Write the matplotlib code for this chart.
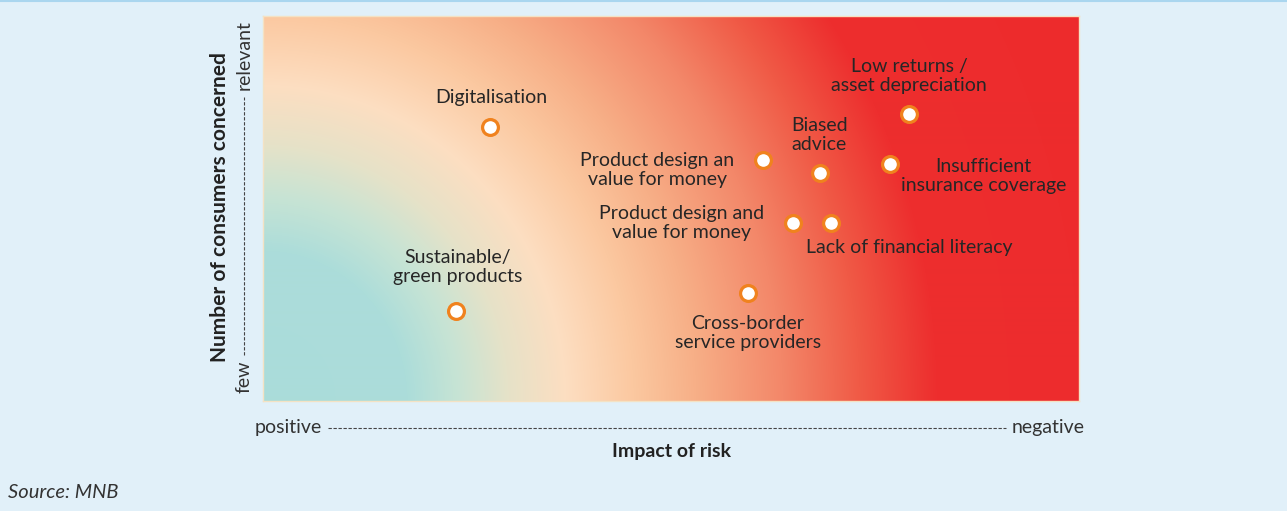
import numpy as np
import matplotlib.pyplot as plt

plt.rcParams['font.family'] = ['Lato', 'DejaVu Sans']

# risk map data (impact of risk: 0 = positive, 100 = negative; consumers: 0 = few, 100 = relevant)
names = ['Digitalisation', 'Sustainable/\ngreen products', 'Product design an\nvalue for money',
         'Biased\nadvice', 'Product design and\nvalue for money', 'Lack of financial literacy',
         'Cross-border\nservice providers', 'Low returns /\nasset depreciation',
         'Insufficient\ninsurance coverage']
impact = [27.8, 23.7, 61.3, 68.3, 64.9, 69.6, 59.4, 79.2, 76.8]
consumers = [71.2, 23.4, 62.6, 59.2, 46.2, 46.2, 28.1, 74.5, 61.6]
# label offsets from the point, in pixels
offsets = [(1, 29), (1, 44), (-106, -10), (-1, 38), (-111, 0), (78, -24), (0, -40), (0, 38), (94, -12)]

# radial background gradient from the bottom-left corner
W, H = 816, 385
xp, yp = np.meshgrid(np.arange(W), np.arange(H))
r = np.sqrt((xp * 1.04) ** 2 + yp ** 2)
stops = [0, 150, 205, 255, 315, 385, 450, 540, 620, 700, 1000]
cols = np.array([(170, 220, 218), (172, 221, 218), (200, 228, 212), (230, 226, 200),
                 (253, 222, 193), (251, 200, 160), (247, 175, 135), (243, 135, 105),
                 (240, 90, 70), (237, 46, 46), (237, 42, 44)]) / 255
rgb = np.stack([np.interp(r, stops, cols[:, i]) for i in range(3)], axis=-1)

fig = plt.figure(figsize=(12.87, 5.11), dpi=100, facecolor='#e1f0f9')
fig.add_artist(plt.Line2D([0, 1], [0.999, 0.999], color='#aad6ef', lw=1.5, transform=fig.transFigure))

ax = fig.add_axes([263 / 1287, 110 / 511, 816 / 1287, 385 / 511])
ax.imshow(rgb, extent=(0, 100, 0, 100), origin='lower', aspect='auto', interpolation='bilinear', zorder=0)
ax.set_xlim(0, 100)
ax.set_ylim(0, 100)
ax.set_xticks([])
ax.set_yticks([])
for s in ax.spines.values():
    s.set_color('#f4e2c4')
    s.set_linewidth(1)

ax.scatter(impact, consumers, s=130, facecolor='white', edgecolor='#f0821e', linewidth=2.3, zorder=3)
for n, x, y, off in zip(names, impact, consumers, offsets):
    ax.annotate(n, (x, y), xytext=off, textcoords='offset pixels', ha='center', va='center',
                multialignment='center', fontsize=14, color='#262626', linespacing=1.15)

txt = '#333333'
# x axis
ax.text(-0.0098, -0.068, 'positive', transform=ax.transAxes, ha='left', va='center', fontsize=14, color=txt)
ax.text(1.007, -0.068, 'negative', transform=ax.transAxes, ha='right', va='center', fontsize=14, color=txt)
ax.plot([0.0797, 0.9105], [-0.070, -0.070], transform=ax.transAxes, clip_on=False,
        color='#444444', lw=0.8, linestyle=(0, (3, 1.5)))
ax.text(0.5, -0.13, 'Impact of risk', transform=ax.transAxes, ha='center', va='center',
        fontsize=14, fontweight='bold', color='#222222')

# y axis
ax.text(-0.0233, 0.021, 'few', transform=ax.transAxes, rotation=90, ha='center', va='bottom',
        fontsize=14, color=txt)
ax.text(-0.0233, 0.99, 'relevant', transform=ax.transAxes, rotation=90, ha='center', va='top',
        fontsize=14, color=txt)
ax.plot([-0.0233, -0.0233], [0.119, 0.790], transform=ax.transAxes, clip_on=False,
        color='#444444', lw=0.8, linestyle=(0, (3, 1.5)))
ax.text(-0.0527, 0.504, 'Number of consumers concerned', transform=ax.transAxes, rotation=90,
        ha='center', va='center', fontsize=15, fontweight='bold', color='#222222')

fig.text(8 / 1287, 0.037, 'Source: MNB', ha='left', va='center', fontsize=14.5, style='italic', color=txt)

fig.savefig('out.png', dpi=100, facecolor=fig.get_facecolor())
